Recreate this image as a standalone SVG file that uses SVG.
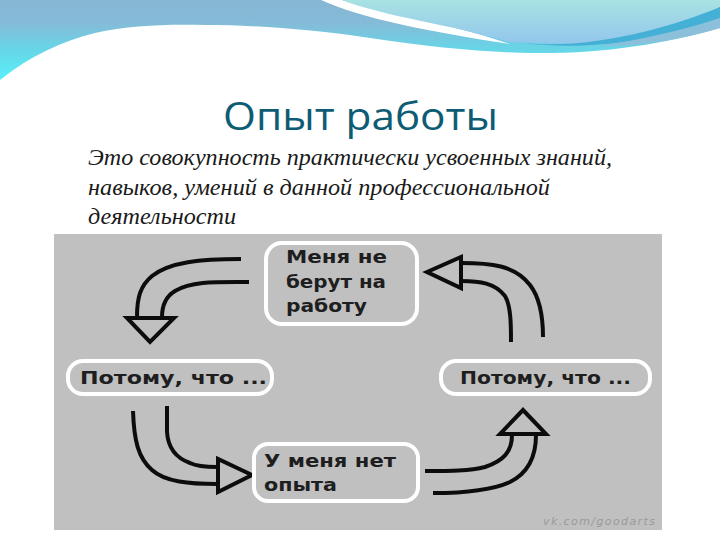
<svg xmlns="http://www.w3.org/2000/svg" width="720" height="540" viewBox="0 0 720 540">
<style>
.box{fill:#c0c0c0;stroke:#fff;stroke-width:4}
.lbl{font-family:"DejaVu Sans",sans-serif;font-weight:700;font-size:18px;fill:#1e1e1e}
.line{fill:none;stroke:#0c0c0c;stroke-width:4;stroke-linecap:butt}
.head{fill:none;stroke:#0c0c0c;stroke-width:4;stroke-linejoin:miter}
.body{font-family:"Liberation Serif",serif;font-style:italic;font-size:24px;fill:#1a1a1a}
</style>
<defs>
<linearGradient id="bg" gradientUnits="userSpaceOnUse" x1="0" y1="0" x2="0" y2="80"><stop offset="0" stop-color="#86b6d4"/><stop offset="0.3" stop-color="#84bcd8"/><stop offset="0.6" stop-color="#68d4e6"/><stop offset="1" stop-color="#58f0f8"/></linearGradient>
<linearGradient id="lt" x1="0" y1="0" x2="0" y2="1"><stop offset="0" stop-color="#a8e2e2"/><stop offset="1" stop-color="#92c6ec"/></linearGradient>
</defs>
<rect width="720" height="540" fill="#fff"/>
<path id="wave" d="M0 0H720V28C660 45 600 54 530 53C480 52 430 47 370 38C310 29 250 25 205 25C170 24 130 25 95 33C60 42 30 56 0 80Z" fill="url(#bg)"/>
<path id="streak" d="M321 0C360 18 430 32 510 44C440 20 380 14 342 0Z" fill="#fff"/>
<path id="highlight" d="M342 0H720V7C670 36 610 47 569 44L510 42C440 22 390 18 342 0Z" fill="url(#lt)"/>
<path id="band-dark" d="M523 43C590 50 670 28 720 7V18C670 38 590 52 523 43Z" fill="#45b0d6"/>
<path id="band-light" d="M600 46C650 38 690 28 720 18V28C680 40 640 46 600 46Z" fill="#8cc0da"/>
<text id="title" x="223" y="130" font-family="Open Sans, sans-serif" font-size="38px" fill="#0e5c74" textLength="275" lengthAdjust="spacingAndGlyphs">Опыт работы</text>
<g id="intro" class="body">
<text x="88" y="165" textLength="524" lengthAdjust="spacingAndGlyphs">Это совокупность практически усвоенных знаний,</text>
<text x="88" y="195" textLength="462" lengthAdjust="spacingAndGlyphs">навыков, умений в данной профессиональной</text>
<text x="88" y="224" textLength="148" lengthAdjust="spacingAndGlyphs">деятельности</text>
</g>
<rect id="panel" x="54" y="234" width="608" height="296" fill="#c0c0c0"/>
<g id="connectors">
<g id="arrow-left">
<path class="line" d="M241 259C200 259 170 262 152 276C140 286 137 298 137 317"/>
<path class="line" d="M249 282C215 282 192 281 175 291C165 297 162 306 162 317"/>
<path class="head" d="M127 318H174L150 342Z"/>
</g>
<g id="arrow-right">
<path class="line" d="M461 263C490 263 515 265 530 285C540 298 543 318 543 337"/>
<path class="line" d="M461 281C480 281 495 283 505 296C511 306 511 325 511 342"/>
<path class="head" d="M427 272L461 257V288Z"/>
</g>
<g id="arrow-bottom-left">
<path class="line" d="M133 411C134 440 138 458 152 470C165 482 190 484 217 484"/>
<path class="line" d="M167 406V432C168 448 176 458 190 463C198 467 208 467 217 467"/>
<path class="head" d="M218 459V492L252 475Z"/>
</g>
<g id="arrow-bottom-right">
<path class="line" d="M425 471C450 471 470 471 485 467C503 461 512 452 512 435"/>
<path class="line" d="M433 493C460 493 490 491 510 482C530 472 536 455 536 435"/>
<path class="head" d="M500 434H546L523 410Z"/>
</g>
</g>
<g id="node-top">
<rect class="box" x="266" y="243" width="151" height="81" rx="16"/>
<text class="lbl" x="286" y="263" textLength="101" lengthAdjust="spacingAndGlyphs">Меня не</text>
<text class="lbl" x="286" y="288" textLength="100" lengthAdjust="spacingAndGlyphs">берут на</text>
<text class="lbl" x="286" y="312" textLength="81" lengthAdjust="spacingAndGlyphs">работу</text>
</g>
<g id="node-left">
<rect class="box" x="68" y="361" width="204" height="33" rx="15"/>
<text class="lbl" x="80" y="384" textLength="187" lengthAdjust="spacingAndGlyphs">Потому, что ...</text>
</g>
<g id="node-right">
<rect class="box" x="441" y="361" width="209" height="33" rx="15"/>
<text class="lbl" x="460" y="384" textLength="171" lengthAdjust="spacingAndGlyphs">Потому, что ...</text>
</g>
<g id="node-bottom">
<rect class="box" x="254" y="444" width="164" height="57" rx="14"/>
<text class="lbl" x="264" y="467" textLength="132" lengthAdjust="spacingAndGlyphs">У меня нет</text>
<text class="lbl" x="264" y="491" textLength="73" lengthAdjust="spacingAndGlyphs">опыта</text>
</g>
<text id="watermark" x="543" y="525" font-family="DejaVu Sans, sans-serif" font-style="italic" font-size="11px" fill="#9a9a9a" textLength="112">vk.com/goodarts</text>
</svg>
